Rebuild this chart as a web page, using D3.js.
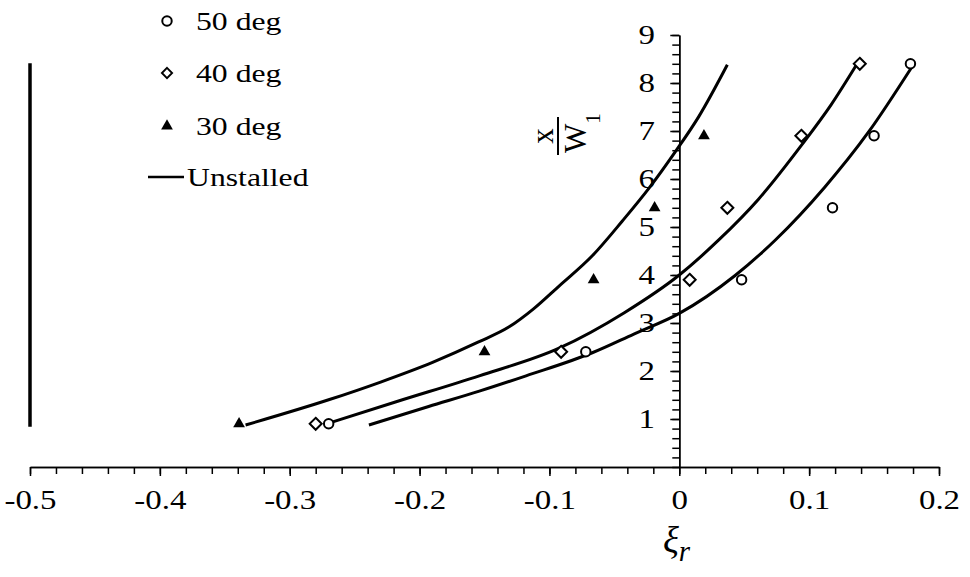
<!DOCTYPE html>
<html>
<head>
<meta charset="utf-8">
<script src="https://d3js.org/d3.v7.min.js"></script>
<style>
  body { margin: 0; background: #fff; }
  text { font-family: "Liberation Serif", "DejaVu Serif", serif; fill: #000; }
  .axis path, .axis line { stroke: #000; stroke-width: 1.5; }
  .axis text { font-size: 27px; }
</style>
</head>
<body>
<svg width="970" height="577"></svg>
<script>
// measured points, x = xi_r, y = x/W1
var deg50 = [[-0.270, 0.9], [-0.072, 2.4], [0.048, 3.9], [0.118, 5.4], [0.150, 6.9], [0.178, 8.4]];
var deg40 = [[-0.280, 0.9], [-0.091, 2.4], [0.008, 3.9], [0.037, 5.4], [0.094, 6.9], [0.139, 8.4]];
var deg30 = [[-0.339, 0.9], [-0.150, 2.4], [-0.066, 3.9], [-0.019, 5.4], [0.019, 6.9]];

// unstalled curves
var unstalled30 = [[-0.334, 0.875], [-0.27, 1.40], [-0.23, 1.77], [-0.19, 2.18], [-0.155, 2.60], [-0.131, 2.92],
                   [-0.112, 3.30], [-0.093, 3.76], [-0.067, 4.40], [-0.044, 5.12], [-0.023, 5.82], [-0.003, 6.57],
                   [0.015, 7.30], [0.037, 8.38]];
var unstalled40 = [[-0.268, 0.93], [-0.218, 1.36], [-0.154, 1.90], [-0.093, 2.47], [-0.042, 3.22], [0.0, 4.00],
                   [0.030, 4.72], [0.061, 5.58], [0.094, 6.70], [0.117, 7.55], [0.1365, 8.38]];
var unstalled50 = [[-0.239, 0.875], [-0.193, 1.26], [-0.154, 1.58], [-0.118, 1.90], [-0.067, 2.38], [-0.035, 2.77],
                   [0.0, 3.20], [0.043, 3.99], [0.074, 4.73], [0.112, 5.83], [0.1455, 6.97], [0.179, 8.33]];

// vertical trace at the left edge
var edgeTrace = [[-0.5, 0.84], [-0.5, 8.41]];

var xTicks = [-0.5, -0.4, -0.3, -0.2, -0.1, 0, 0.1, 0.2];
var yTicks = [1, 2, 3, 4, 5, 6, 7, 8, 9];
var legendItems = ["50 deg", "40 deg", "30 deg", "Unstalled"];

var svg = d3.select("svg");
var stretch = 1.22;

var x = d3.scaleLinear().domain([-0.5, 0.2]).range([30, 939]);
var y = d3.scaleLinear().domain([0, 9]).range([467, 35]);

// x axis: minor ticks then labelled ticks
svg.append("g")
   .attr("class", "axis")
   .attr("transform", "translate(0," + y(0) + ")")
   .call(d3.axisBottom(x).tickValues(d3.range(-0.5, 0.2001, 0.02)).tickSize(7).tickSizeOuter(0).tickFormat(""));

var gx = svg.append("g")
   .attr("class", "axis")
   .attr("transform", "translate(0," + y(0) + ")")
   .call(d3.axisBottom(x).tickValues(xTicks).tickSize(9).tickSizeOuter(0).tickPadding(14)
         .tickFormat(function(d) { return String(d); }));
gx.selectAll("text").attr("transform", "scale(" + stretch + ",1)");

// y axis at xi_r = 0
svg.append("g")
   .attr("class", "axis")
   .attr("transform", "translate(" + x(0) + ",0)")
   .call(d3.axisLeft(y).tickValues(d3.range(0, 9.001, 0.2)).tickSize(7).tickSizeOuter(0).tickFormat(""));

var gy = svg.append("g")
   .attr("class", "axis")
   .attr("transform", "translate(" + x(0) + ",0)")
   .call(d3.axisLeft(y).tickValues(yTicks).tickSize(9).tickSizeOuter(0).tickFormat(d3.format("d")));
gy.selectAll("text").attr("x", -20).attr("transform", "scale(" + stretch + ",1)");

// curves
var line = d3.line()
   .x(function(d) { return x(d[0]); })
   .y(function(d) { return y(d[1]); })
   .curve(d3.curveMonotoneX);

[unstalled30, unstalled40, unstalled50].forEach(function(c) {
   svg.append("path")
      .attr("d", line(c))
      .attr("fill", "none")
      .attr("stroke", "#000")
      .attr("stroke-width", 3);
});

svg.append("path")
   .attr("d", d3.line().x(function(d) { return x(d[0]); }).y(function(d) { return y(d[1]); })(edgeTrace))
   .attr("stroke", "#000")
   .attr("stroke-width", 3.5);

// markers
var circleSym = d3.symbol().type(d3.symbolCircle).size(70);
var diamondSym = "M0,-6L6,0L0,6L-6,0Z";
var triSym = d3.symbol().type(d3.symbolTriangle).size(60);

svg.selectAll(".p50").data(deg50).enter().append("path")
   .attr("class", "p50")
   .attr("d", circleSym)
   .attr("transform", function(d) { return "translate(" + x(d[0]) + "," + y(d[1]) + ")"; })
   .attr("fill", "#fff").attr("stroke", "#000").attr("stroke-width", 2);

svg.selectAll(".p40").data(deg40).enter().append("path")
   .attr("class", "p40")
   .attr("d", diamondSym)
   .attr("transform", function(d) { return "translate(" + x(d[0]) + "," + y(d[1]) + ")"; })
   .attr("fill", "#fff").attr("stroke", "#000").attr("stroke-width", 2);

svg.selectAll(".p30").data(deg30).enter().append("path")
   .attr("class", "p30")
   .attr("d", triSym)
   .attr("transform", function(d) { return "translate(" + x(d[0]) + "," + y(d[1]) + ")"; })
   .attr("fill", "#000");

// legend
var legY = [21, 73, 126, 177];
svg.append("path").attr("d", circleSym).attr("transform", "translate(167," + legY[0] + ")")
   .attr("fill", "#fff").attr("stroke", "#000").attr("stroke-width", 2);
svg.append("path").attr("d", diamondSym).attr("transform", "translate(167," + legY[1] + ") scale(0.85)")
   .attr("fill", "#fff").attr("stroke", "#000").attr("stroke-width", 2.2);
svg.append("path").attr("d", triSym).attr("transform", "translate(167," + legY[2] + ")").attr("fill", "#000");
svg.append("line").attr("x1", 148).attr("x2", 184).attr("y1", legY[3]).attr("y2", legY[3])
   .attr("stroke", "#000").attr("stroke-width", 2.5);

legendItems.forEach(function(t, i) {
   svg.append("text")
      .attr("transform", "translate(" + (i == 3 ? 187 : 196) + "," + (legY[i] + 9) + ") scale(" + stretch + ",1)")
      .style("font-size", "26px")
      .text(t);
});

// y label: x over W1, rotated
var yl = svg.append("g").attr("transform", "translate(558,136) rotate(-90)");
yl.append("line").attr("x1", -19).attr("x2", 19).attr("y1", 0).attr("y2", 0)
   .attr("stroke", "#000").attr("stroke-width", 2);
yl.append("text").attr("x", 0).attr("y", -5).attr("text-anchor", "middle")
   .style("font-size", "31px").text("x");
var wt = yl.append("text").attr("x", 3).attr("y", 28).attr("text-anchor", "middle").style("font-size", "31px");
wt.append("tspan").text("W");
wt.append("tspan").attr("dy", 14).style("font-size", "21px").text("1");

// x label
var xl = svg.append("text").attr("x", 663).attr("y", 553).style("font-style", "italic");
xl.append("tspan").style("font-size", "37px").text("ξ");
xl.append("tspan").attr("dy", 8).style("font-size", "29px").text("r");
</script>
</body>
</html>
